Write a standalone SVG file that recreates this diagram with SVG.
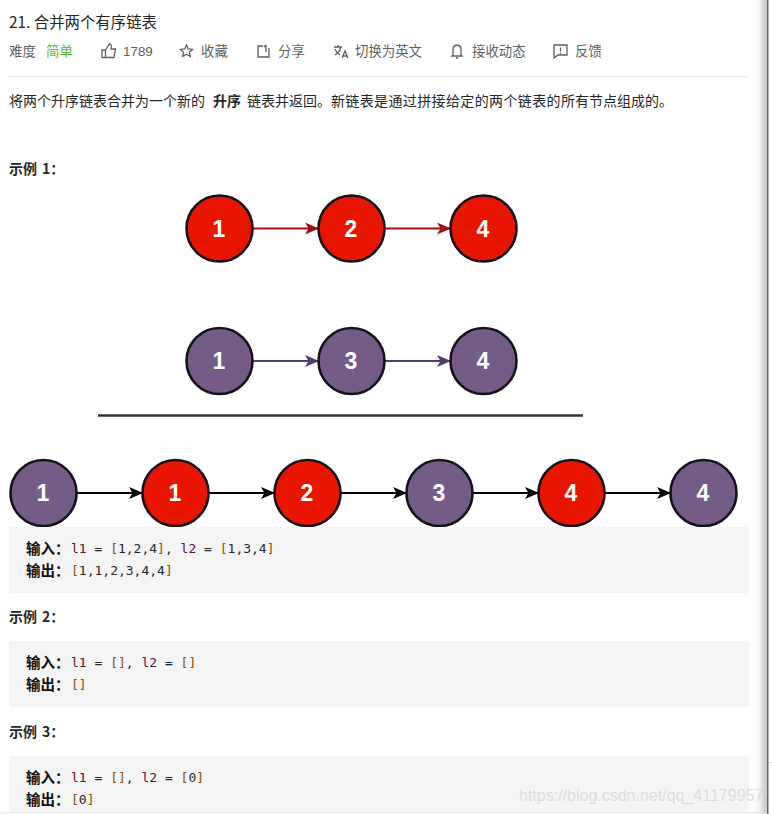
<svg xmlns="http://www.w3.org/2000/svg" width="772" height="814" viewBox="0 0 772 814">
<defs>
<linearGradient id="edge" x1="0" x2="1" y1="0" y2="0"><stop offset="0" stop-color="#fff"/><stop offset=".5" stop-color="#f6f6f6"/><stop offset="1" stop-color="#c4c4c4"/></linearGradient>
<marker id="ar" viewBox="0 0 14 12" refX="13" refY="6" markerWidth="14" markerHeight="12" markerUnits="userSpaceOnUse" orient="auto"><path d="M0 0L14 6L0 12L3.500 6Z" fill="#a01018"/></marker>
<marker id="ap" viewBox="0 0 14 12" refX="13" refY="6" markerWidth="14" markerHeight="12" markerUnits="userSpaceOnUse" orient="auto"><path d="M0 0L14 6L0 12L3.500 6Z" fill="#4f3a68"/></marker>
<marker id="ab" viewBox="0 0 14 12" refX="13" refY="6" markerWidth="14" markerHeight="12" markerUnits="userSpaceOnUse" orient="auto"><path d="M0 0L14 6L0 12L3.500 6Z" fill="#000"/></marker>
</defs>
<style>
text{font-family:"Noto Sans CJK SC","Noto Sans",sans-serif}
.t{font-size:13.400px;fill:#5f5f5f}
.b{font-size:14px;fill:#262626}
.h{font-size:14px;font-weight:700;fill:#262626}
.n circle{stroke:#16121a;stroke-width:2.600}
.r circle{fill:#e81500}
.p circle{fill:#755c88}
.n text{font-family:"Liberation Sans",sans-serif;font-size:23px;font-weight:700;fill:#fff;text-anchor:middle}
.box{fill:#f4f4f4}
.c{font-size:14.500px;font-weight:700;fill:#111}
.m{font-family:"DejaVu Sans Mono","Liberation Mono",monospace;font-size:13px;fill:#1f2a30}
.k{fill:#5e0f38}.o{fill:#8a5200}
.ic{fill:none;stroke:#5f5f5f;stroke-width:1.300}
</style>
<rect width="772" height="814" fill="#fff"/>
<rect x="750" y="0" width="17" height="814" fill="url(#edge)"/>
<rect x="767" y="0" width="1.500" height="814" fill="#6a6a6a"/>
<line x1="769" y1="762.500" x2="772" y2="762.500" stroke="#e2e2e2"/>
<g id="header">
<text x="9" y="28" font-size="15.400" fill="#262626">21. 合并两个有序链表</text>
<text x="9" y="56" class="t">难度</text>
<text x="46" y="56" font-size="13.400" fill="#5cb82e">简单</text>
<path class="ic" d="M102 50h3.500v7.500H102zM105.500 50l4-6c2 0 2 2 1.500 5h4.500l-1.500 8.500h-8.500"/>
<text x="123" y="56" class="t" style="font-family:'Liberation Sans',sans-serif">1789</text>
<path class="ic" d="M186.500 45l1.800 3.900 4.200.5-3.100 2.800.9 4.200-3.800-2.100-3.800 2.100.9-4.200-3.100-2.800 4.200-.5z"/>
<text x="201" y="56" class="t">收藏</text>
<path class="ic" d="M263 46h-5v11h11v-9M266 45v7M266 45l-2 2"/>
<text x="278" y="56" class="t">分享</text>
<path class="ic" d="M334 47h8M338 45v2M341 47c-1 4-3 6-6 8M335 49c1 3 3 5 5 6M342 58l3-7 3 7M343 56h4"/>
<text x="355" y="56" class="t">切换为英文</text>
<path class="ic" d="M453 55v-6c0-5 8-5 8 0v6l1 1h-10zM456 58h2"/>
<text x="472" y="56" class="t">接收动态</text>
<path class="ic" d="M554 45h13v10h-9l-4 3zM560.500 47.500v4M560.500 52.500v1.200"/>
<text x="575" y="56" class="t">反馈</text>
<line x1="8" y1="76.500" x2="749" y2="76.500" stroke="#e8e8e8"/>
</g>
<text id="intro" y="106" class="b"><tspan x="9">将两个升序链表合并为一个新的</tspan><tspan x="213" font-weight="700">升序</tspan><tspan x="247">链表并返回。</tspan><tspan x="331" letter-spacing=".37">新链表是通过拼接给定的两个链表的</tspan><tspan x="561">所有节点组成的。</tspan></text>
<text id="ex1" y="174" class="h"><tspan x="9">示例</tspan><tspan x="42">1：</tspan></text>
<g id="connectors">
<g fill="none" stroke-width="2">
<line x1="253" y1="228.500" x2="318" y2="228.500" stroke="#a01018" marker-end="url(#ar)"/>
<line x1="385" y1="228.500" x2="450" y2="228.500" stroke="#a01018" marker-end="url(#ar)"/>
<line x1="253" y1="361" x2="318" y2="361" stroke="#4f3a68" marker-end="url(#ap)"/>
<line x1="385" y1="361" x2="450" y2="361" stroke="#4f3a68" marker-end="url(#ap)"/>
<line x1="77" y1="493" x2="142" y2="493" stroke="#000" marker-end="url(#ab)"/>
<line x1="209" y1="493" x2="274" y2="493" stroke="#000" marker-end="url(#ab)"/>
<line x1="341" y1="493" x2="406" y2="493" stroke="#000" marker-end="url(#ab)"/>
<line x1="473" y1="493" x2="538" y2="493" stroke="#000" marker-end="url(#ab)"/>
<line x1="605" y1="493" x2="670" y2="493" stroke="#000" marker-end="url(#ab)"/>
</g>
</g>
<line id="divider" x1="98" y1="415.500" x2="583" y2="415.500" stroke="#333" stroke-width="2.500"/>
<g id="a1" class="n r"><circle cx="219.500" cy="228.500" r="33"/><text x="219" y="237">1</text></g>
<g id="a2" class="n r"><circle cx="351.500" cy="228.500" r="33"/><text x="351" y="237">2</text></g>
<g id="a4" class="n r"><circle cx="483.500" cy="228.500" r="33"/><text x="483" y="237">4</text></g>
<g id="b1" class="n p"><circle cx="219.500" cy="361" r="33"/><text x="219" y="369">1</text></g>
<g id="b3" class="n p"><circle cx="351.500" cy="361" r="33"/><text x="351" y="369">3</text></g>
<g id="b4" class="n p"><circle cx="483.500" cy="361" r="33"/><text x="483" y="369">4</text></g>
<g id="c1" class="n p"><circle cx="43.500" cy="493" r="33"/><text x="43" y="501">1</text></g>
<g id="c2" class="n r"><circle cx="175.500" cy="493" r="33"/><text x="175" y="501">1</text></g>
<g id="c3" class="n r"><circle cx="307.500" cy="493" r="33"/><text x="307" y="501">2</text></g>
<g id="c4" class="n p"><circle cx="439.500" cy="493" r="33"/><text x="439" y="501">3</text></g>
<g id="c5" class="n r"><circle cx="571.500" cy="493" r="33"/><text x="571" y="501">4</text></g>
<g id="c6" class="n p"><circle cx="703.500" cy="493" r="33"/><text x="703" y="501">4</text></g>
<g id="code1">
<rect class="box" x="9" y="527" width="740" height="66" rx="3"/>
<text x="26" y="554" class="c">输入：</text>
<text x="71" y="553" class="m"><tspan class="k">l1</tspan> = <tspan class="o">[</tspan>1,2,4<tspan class="o">]</tspan>, <tspan class="k">l2</tspan> = <tspan class="o">[</tspan>1,3,4<tspan class="o">]</tspan></text>
<text x="26" y="576" class="c">输出：</text>
<text x="71" y="575" class="m"><tspan class="o">[</tspan>1,1,2,3,4,4<tspan class="o">]</tspan></text>
</g>
<text id="ex2" y="622" class="h"><tspan x="9">示例</tspan><tspan x="42">2：</tspan></text>
<g id="code2">
<rect class="box" x="9" y="641" width="740" height="66" rx="3"/>
<text x="26" y="668" class="c">输入：</text>
<text x="71" y="667" class="m"><tspan class="k">l1</tspan> = <tspan class="o">[]</tspan>, <tspan class="k">l2</tspan> = <tspan class="o">[]</tspan></text>
<text x="26" y="690" class="c">输出：</text>
<text x="71" y="689" class="m"><tspan class="o">[]</tspan></text>
</g>
<text id="ex3" y="737" class="h"><tspan x="9">示例</tspan><tspan x="42">3：</tspan></text>
<g id="code3">
<rect class="box" x="9" y="756" width="740" height="56" rx="3"/>
<text x="26" y="783" class="c">输入：</text>
<text x="71" y="782" class="m"><tspan class="k">l1</tspan> = <tspan class="o">[]</tspan>, <tspan class="k">l2</tspan> = <tspan class="o">[</tspan>0<tspan class="o">]</tspan></text>
<text x="26" y="805" class="c">输出：</text>
<text x="71" y="804" class="m"><tspan class="o">[</tspan>0<tspan class="o">]</tspan></text>
</g>
<line x1="0" y1="812.500" x2="767" y2="812.500" stroke="#e6e6e6"/>
<text id="watermark" x="519" y="801" font-size="16" fill="#d6d6d6" fill-opacity=".8" style="font-family:'Liberation Sans',sans-serif">https://blog.csdn.net/qq_41179957</text>
</svg>
